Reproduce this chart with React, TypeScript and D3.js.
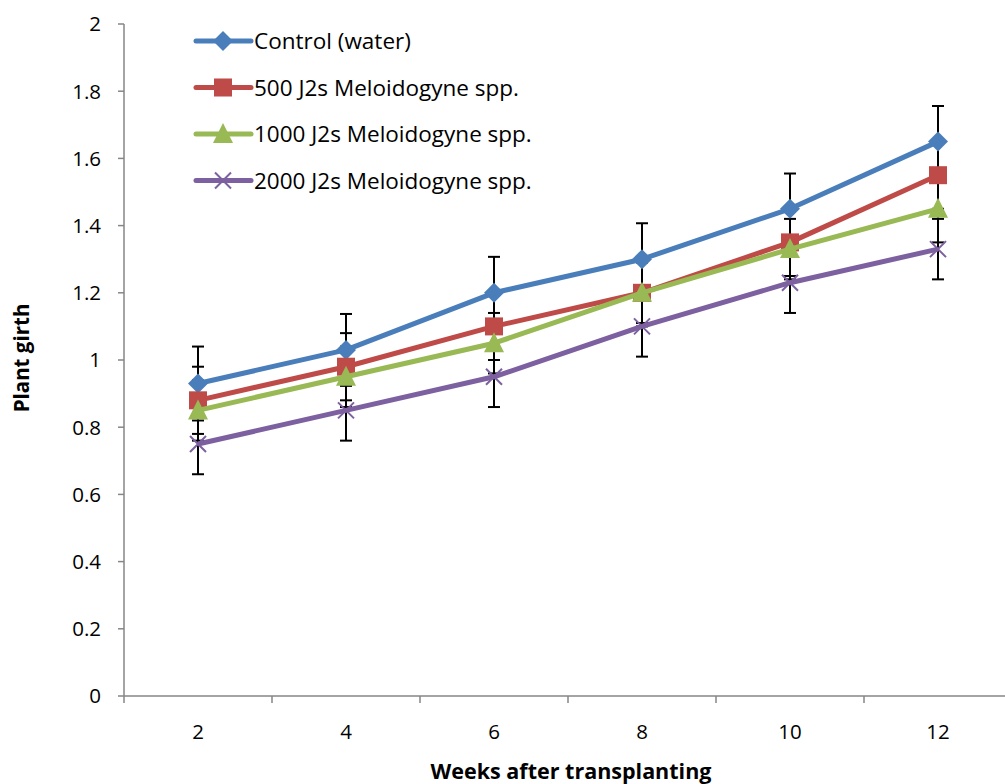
import React from "react";
import * as d3 from "d3";

const weeks = ["2", "4", "6", "8", "10", "12"];
const yTicks = [0, 0.2, 0.4, 0.6, 0.8, 1, 1.2, 1.4, 1.6, 1.8, 2];

const seriesNames = [
  "Control (water)",
  "500 J2s Meloidogyne spp.",
  "1000 J2s Meloidogyne spp.",
  "2000 J2s Meloidogyne spp.",
];
const controlValues = [0.93, 1.03, 1.2, 1.3, 1.45, 1.65];
const j500Values = [0.88, 0.98, 1.1, 1.2, 1.35, 1.55];
const j1000Values = [0.85, 0.95, 1.05, 1.2, 1.33, 1.45];
const j2000Values = [0.75, 0.85, 0.95, 1.1, 1.23, 1.33];

const controlErr = [0.11, 0.107, 0.107, 0.107, 0.105, 0.106];
const j500Err = [0.1, 0.1, 0.1, 0.1, 0.1, 0.1];
const j1000Err = [0.09, 0.09, 0.09, 0.09, 0.09, 0.1];
const j2000Err = [0.09, 0.09, 0.09, 0.09, 0.09, 0.09];

const colors = ["#4A7EBB", "#BE4B48", "#98B954", "#7D60A0"];
const markerTypes = ["diamond", "square", "triangle", "x"];

const W = 1005;
const H = 784;
const FONT = "'Open Sans', Lato, sans-serif";

function Marker({ type, x, y, color }: { type: string; x: number; y: number; color: string }) {
  if (type === "diamond") {
    const s = 10;
    return <path d={`M${x},${y - s}L${x + s},${y}L${x},${y + s}L${x - s},${y}Z`} fill={color} />;
  }
  if (type === "square") {
    const s = 9;
    return <rect x={x - s} y={y - s} width={2 * s} height={2 * s} fill={color} />;
  }
  if (type === "triangle") {
    const s = 10;
    return <path d={`M${x},${y - s - 1}L${x + s},${y + s - 1}L${x - s},${y + s - 1}Z`} fill={color} />;
  }
  const s = 8;
  return (
    <path
      d={`M${x - s},${y - s}L${x + s},${y + s}M${x - s},${y + s}L${x + s},${y - s}`}
      stroke={color}
      strokeWidth={2}
      fill="none"
    />
  );
}

export default function App() {
  const left = 124;
  const top = 24;
  const bottom = 696;
  const band = 148;

  const x = d3
    .scaleBand<string>()
    .domain(weeks)
    .range([left, left + band * weeks.length])
    .paddingInner(0)
    .paddingOuter(0);
  const y = d3.scaleLinear().domain([0, 2]).range([bottom, top]);
  const cx = (w: string) => (x(w) as number) + x.bandwidth() / 2;

  const series = [
    { name: seriesNames[0], values: controlValues, err: controlErr },
    { name: seriesNames[1], values: j500Values, err: j500Err },
    { name: seriesNames[2], values: j1000Values, err: j1000Err },
    { name: seriesNames[3], values: j2000Values, err: j2000Err },
  ];

  const line = d3
    .line<number>()
    .x((_, i) => cx(weeks[i]))
    .y((d) => y(d));

  const axisColor = "#868686";
  const xTickPositions = d3.range(weeks.length + 1).map((i) => left + i * band);

  return (
    <svg
      width={W}
      height={H}
      style={{ position: "absolute", left: 0, top: 0, background: "#fff" }}
      fontFamily={FONT}
    >
      <rect width={W} height={H} fill="#fff" />
      {/* y axis */}
      <line x1={left} x2={left} y1={top} y2={bottom} stroke={axisColor} strokeWidth={1.5} />
      {yTicks.map((t) => (
        <g key={t}>
          <line x1={left - 6} x2={left} y1={y(t)} y2={y(t)} stroke={axisColor} strokeWidth={1.5} />
          <text x={101} y={y(t)} dy="0.36em" textAnchor="end" fontSize={20.5} fill="#000">
            {d3.format("")(t)}
          </text>
        </g>
      ))}
      {/* x axis */}
      <line x1={left} x2={W} y1={bottom} y2={bottom} stroke={axisColor} strokeWidth={1.5} />
      {xTickPositions.map((p, i) => (
        <line key={i} x1={p} x2={p} y1={bottom} y2={bottom + 7} stroke={axisColor} strokeWidth={1.5} />
      ))}
      {weeks.map((w) => (
        <text key={w} x={cx(w)} y={738.5} textAnchor="middle" fontSize={20.5} fill="#000">
          {w}
        </text>
      ))}
      <text x={571} y={779} textAnchor="middle" fontSize={21.5} fontWeight="bold" fill="#000">
        Weeks after transplanting
      </text>
      <text
        transform={`translate(29,358) rotate(-90)`}
        textAnchor="middle"
        fontSize={20.5}
        fontWeight="bold"
        fill="#000"
      >
        Plant girth
      </text>

      {/* error bars */}
      {series.map((s, si) =>
        s.values.map((v, i) => {
          const px = cx(weeks[i]);
          const y1 = y(v + s.err[i]);
          const y2 = y(v - s.err[i]);
          return (
            <g key={`e${si}-${i}`} stroke="#000" strokeWidth={2}>
              <line x1={px} x2={px} y1={y1} y2={y2} />
              <line x1={px - 6} x2={px + 6} y1={y1} y2={y1} />
              <line x1={px - 6} x2={px + 6} y1={y2} y2={y2} />
            </g>
          );
        })
      )}

      {/* lines and markers */}
      {series.map((s, si) => (
        <g key={`s${si}`}>
          <path d={line(s.values) as string} fill="none" stroke={colors[si]} strokeWidth={5} strokeLinejoin="round" />
          {s.values.map((v, i) => (
            <Marker key={i} type={markerTypes[si]} x={cx(weeks[i])} y={y(v)} color={colors[si]} />
          ))}
        </g>
      ))}

      {/* legend */}
      {series.map((s, si) => {
        const ly = 41 + si * 46.5;
        return (
          <g key={`l${si}`}>
            <line x1={196} x2={251} y1={ly} y2={ly} stroke={colors[si]} strokeWidth={5} strokeLinecap="round" />
            <Marker type={markerTypes[si]} x={223} y={ly} color={colors[si]} />
            <text x={254} y={ly} dy="0.36em" fontSize={22.5} fill="#000">
              {s.name}
            </text>
          </g>
        );
      })}
    </svg>
  );
}
